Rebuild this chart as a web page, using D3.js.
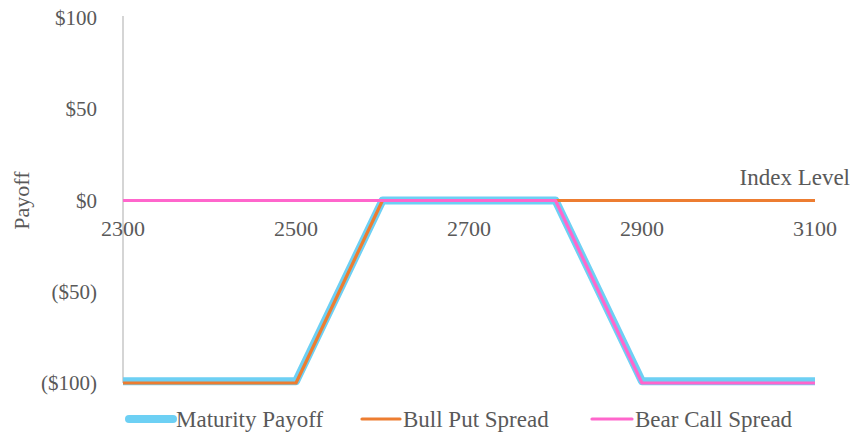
<!DOCTYPE html>
<html>
<head>
<meta charset="utf-8">
<script src="https://cdn.jsdelivr.net/npm/d3@7"></script>
<style>
  body { margin: 0; background: #fff; }
</style>
</head>
<body>
<div id="chart"></div>
<script>
// index levels on the x axis
const indexLevels = [2300, 2400, 2500, 2600, 2700, 2800, 2900, 3100];
// payoffs per series
const maturityPayoff = [-99, -99, -99, 0, 0, 0, -99, -99];
const bullPutSpread = [-100, -100, -100, 0, 0, 0, 0, 0];
const bearCallSpread = [0, 0, 0, 0, 0, 0, -100, -100];
const xTicks = [2300, 2500, 2700, 2900, 3100];
const yTicks = [100, 50, 0, -50, -100];
const seriesNames = ["Maturity Payoff", "Bull Put Spread", "Bear Call Spread"];

const width = 853, height = 436;
const margin = {top: 18, right: 38, bottom: 53, left: 123};
const serif = "'Liberation Serif', 'DejaVu Serif', serif";

const svg = d3.select("#chart").append("svg")
    .attr("width", width)
    .attr("height", height)
    .attr("font-family", serif);

const x = d3.scaleLinear()
    .domain([2300, 3100])
    .range([margin.left, width - margin.right]);

const y = d3.scaleLinear()
    .domain([-100, 100])
    .range([height - margin.bottom, margin.top]);

// y axis line and labels
svg.append("line")
    .attr("x1", x(2300)).attr("x2", x(2300))
    .attr("y1", y(100) - 2).attr("y2", y(-100))
    .attr("stroke", "#bfbfbf").attr("stroke-width", 1.3);

const fmt = v => v < 0 ? "($" + Math.abs(v) + ")" : "$" + v;
svg.selectAll(".ylab")
    .data(yTicks)
    .enter().append("text")
    .attr("x", 97)
    .attr("y", d => y(d) + 7)
    .attr("text-anchor", "end")
    .attr("font-size", 21)
    .attr("fill", "#595959")
    .text(fmt);

// x axis line at zero
svg.append("line")
    .attr("x1", x(2300)).attr("x2", x(3100))
    .attr("y1", y(0)).attr("y2", y(0))
    .attr("stroke", "#bfbfbf").attr("stroke-width", 1);

svg.selectAll(".xlab")
    .data(xTicks)
    .enter().append("text")
    .attr("x", d => x(d))
    .attr("y", y(0) + 35)
    .attr("text-anchor", "middle")
    .attr("font-size", 22)
    .attr("fill", "#595959")
    .text(d => d);

// axis titles
svg.append("text")
    .attr("transform", `translate(29, ${y(0)}) rotate(-90)`)
    .attr("text-anchor", "middle")
    .attr("font-size", 22)
    .attr("fill", "#595959")
    .text("Payoff");

svg.append("text")
    .attr("x", 850)
    .attr("y", y(0) - 16)
    .attr("text-anchor", "end")
    .attr("font-size", 23)
    .attr("fill", "#595959")
    .text("Index Level");

// lines
const line = vals => d3.line()
    .x((d, i) => x(indexLevels[i]))
    .y(d => y(d))(vals);

const series = [
  {vals: maturityPayoff, color: "#6dd0f4", w: 8},
  {vals: bullPutSpread, color: "#ed7d31", w: 3.2},
  {vals: bearCallSpread, color: "#ff66cc", w: 3.2}
];

series.forEach(s => {
  svg.append("path")
      .attr("d", line(s.vals))
      .attr("fill", "none")
      .attr("stroke", s.color)
      .attr("stroke-width", s.w)
      .attr("stroke-linejoin", "round");
});

// legend
const legendX = [129, 362, 592];
const legendW = [44, 38, 40];
seriesNames.forEach((name, i) => {
  const g = svg.append("g");
  g.append("line")
      .attr("x1", legendX[i]).attr("x2", legendX[i] + legendW[i])
      .attr("y1", 419).attr("y2", 419)
      .attr("stroke", series[i].color)
      .attr("stroke-width", series[i].w)
      .attr("stroke-linecap", "round");
  g.append("text")
      .attr("x", legendX[i] + legendW[i] + 3)
      .attr("y", 427)
      .attr("font-size", 23)
      .attr("fill", "#595959")
      .text(name);
});
</script>
</body>
</html>
